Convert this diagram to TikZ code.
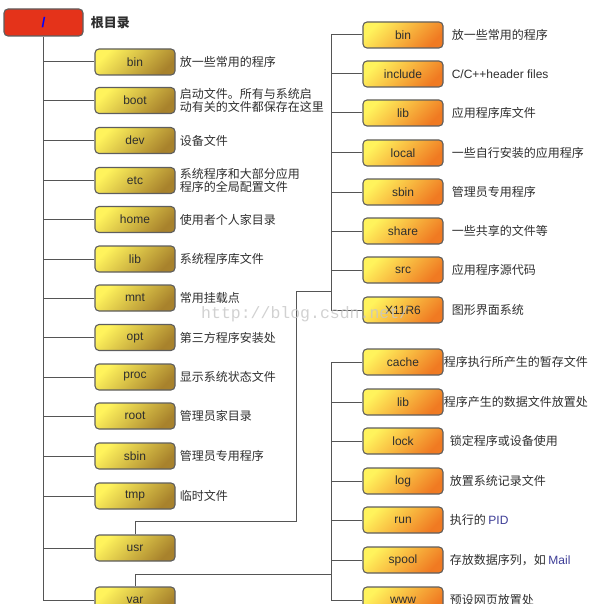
\documentclass[tikz,border=0pt]{standalone}
\usepackage{fontspec}
\setmainfont{Liberation Sans}
\newfontfamily\cjk{Noto Sans CJK SC}
\newfontfamily\wmfont{Liberation Mono}
\usetikzlibrary{positioning}
\definecolor{ybright}{HTML}{FFF35C}
\definecolor{ymid}{HTML}{F8E04C}
\definecolor{ydark}{HTML}{A8822C}
\definecolor{odark}{HTML}{F07A22}
\definecolor{rootred}{HTML}{E4331A}
\definecolor{rootmid}{HTML}{FFB648}
\definecolor{boxedge}{HTML}{5E5E5E}
\definecolor{linegray}{HTML}{555555}
\definecolor{desctext}{HTML}{2E2E2E}
\definecolor{descblue}{HTML}{3C3C96}
\tikzset{
  dirbox/.style={draw=boxedge, line width=1.1pt, rounded corners=4pt,
    minimum width=80pt, minimum height=26pt, inner sep=0pt,
    text=desctext, font=\fontsize{12}{12}\selectfont},
  leftbox/.style={dirbox, left color=ybright, middle color=ymid, right color=ydark, shading angle=45},
  subbox/.style={dirbox, left color=ybright, middle color=ymid, right color=odark, shading angle=45},
  desc/.style={inner sep=0pt, align=left, text=desctext, font=\cjk\fontsize{12}{13.5}\selectfont},
  link/.style={draw=linegray, line width=1pt}
}
\begin{document}
\begin{tikzpicture}[x=1pt, y=-1pt]
  \useasboundingbox (0,0) rectangle (596,604);
  \clip (0,0) rectangle (596,604);

  \node[dirbox, minimum width=79pt, minimum height=27pt, left color=rootred, middle color=rootmid, right color=rootred,
    shading angle=80, text=blue, font=\bfseries\fontsize{14}{14}\selectfont] (rootdir) at (43.5,22.5) {/};
  \node[desc, font=\cjk\bfseries\fontsize{13}{13}\selectfont, right=7pt of rootdir] (rootdesc) {根目录};

  \foreach \n/\y/\d in {bin/62/放一些常用的程序, boot/100.5/{启动文件。所有与系统启\\动有关的文件都保存在这里},
      dev/140.5/设备文件, etc/180.5/{系统程序和大部分应用\\程序的全局配置文件}, home/219.5/使用者个人家目录,
      lib/259/系统程序库文件, mnt/298/常用挂载点, opt/337.5/第三方程序安装处, proc/377/显示系统状态文件,
      root/416/管理员家目录, sbin/456/管理员专用程序, tmp/496/临时文件}
  {
    \node[leftbox] (\n) at (135,\y) {\n};
    \node[desc, right=4pt of \n] (\n desc) {\d};
  }
  \node[leftbox] (usr) at (135,548) {usr};
  \node[leftbox] (var) at (135,600) {var};

  \draw[link] (rootdir.south) |- (var.west);
  \foreach \n in {bin,boot,dev,etc,home,lib,mnt,opt,proc,root,sbin,tmp,usr}
    \draw[link] (rootdir.south |- \n.west) -- (\n.west);

  \foreach \n/\t/\y/\d in {ubin/bin/35/放一些常用的程序, uinc/include/74/{\normalfont C/C++header files},
      ulib/lib/113/应用程序库文件, ulocal/local/153/一些自行安装的应用程序, usbin/sbin/192/管理员专用程序,
      ushare/share/231/一些共享的文件等, usrc/src/270/应用程序源代码, ux/X11R6/310/图形界面系统}
  {
    \node[subbox] (\n) at (403,\y) {\t};
    \node[desc, right=8pt of \n] (\n desc) {\d};
  }
  \coordinate (usrbend) at (296,521);
  \coordinate (usrjoint) at (332,291);
  \draw[link] (usr.north) |- (usrbend) |- (usrjoint);
  \draw[link] (ubin.west) -- ++(-31,0) |- (ux.west);
  \foreach \n in {uinc,ulib,ulocal,usbin,ushare,usrc}
    \draw[link] (\n.west) -- ++(-31,0);

  \foreach \n/\t/\y/\g/\d in {vcache/cache/362/0pt/程序执行所产生的暂存文件, vlib/lib/402/0pt/程序产生的数据文件放置处,
      vlock/lock/441/6pt/锁定程序或设备使用, vlog/log/481/6pt/放置系统记录文件,
      vrun/run/520/6pt/执行的 {\normalfont\color{descblue}PID}, vspool/spool/560/6pt/存放数据序列，如 {\normalfont\color{descblue}Mail},
      vwww/www/600/6pt/预设网页放置处}
  {
    \node[subbox] (\n) at (403,\y) {\t};
    \node[desc, right=\g of \n] (\n desc) {\d};
  }
  \coordinate (varjoint) at (332,574);
  \draw[link] (var.north) |- (varjoint);
  \draw[link] (vcache.west) -- ++(-31,0) |- (vwww.west);
  \foreach \n in {vlib,vlock,vlog,vrun,vspool}
    \draw[link] (\n.west) -- ++(-31,0);

  \node[anchor=west, inner sep=0pt, text=gray!45, opacity=.8, font=\wmfont\fontsize{16.5}{16.5}\selectfont] (watermark) at (201,314) {http://blog.csdn.net/};
\end{tikzpicture}
\end{document}
